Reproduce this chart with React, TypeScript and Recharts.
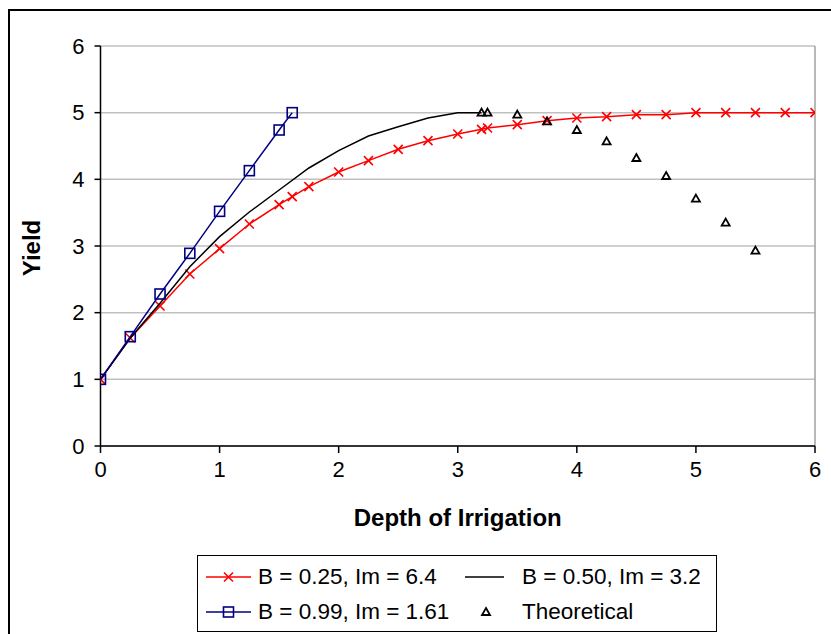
import { ScatterChart, Scatter, XAxis, YAxis, CartesianGrid, ReferenceLine, Label } from "recharts"

// depth of irrigation (x) / yield (y)
const depthB25 = [0, 0.25, 0.5, 0.75, 1, 1.25, 1.5, 1.61, 1.75, 2, 2.25, 2.5, 2.75, 3, 3.2, 3.25, 3.5, 3.75, 4, 4.25, 4.5, 4.75, 5, 5.25, 5.5, 5.75, 6]
const yieldB25 = [1.0, 1.62, 2.1, 2.58, 2.96, 3.33, 3.62, 3.74, 3.89, 4.11, 4.28, 4.45, 4.58, 4.68, 4.75, 4.77, 4.82, 4.88, 4.92, 4.94, 4.97, 4.97, 5.0, 5.0, 5.0, 5.0, 5.0]

const depthB50 = [0, 0.25, 0.5, 0.75, 1, 1.25, 1.5, 1.75, 2, 2.25, 2.5, 2.75, 3, 3.2]
const yieldB50 = [1.0, 1.62, 2.14, 2.69, 3.14, 3.51, 3.84, 4.17, 4.43, 4.65, 4.79, 4.92, 5.0, 5.0]

const depthB99 = [0, 0.25, 0.5, 0.75, 1, 1.25, 1.5, 1.61]
const yieldB99 = [1.0, 1.64, 2.28, 2.89, 3.52, 4.13, 4.74, 5.0]

const depthTheory = [3.2, 3.25, 3.5, 3.75, 4, 4.25, 4.5, 4.75, 5, 5.25, 5.5]
const yieldTheory = [5.0, 5.0, 4.97, 4.87, 4.74, 4.57, 4.32, 4.05, 3.71, 3.35, 2.93]

const axisTicks = [0, 1, 2, 3, 4, 5, 6]

const seriesNames = ["B = 0.25, Im = 6.4", "B = 0.50, Im = 3.2", "B = 0.99, Im = 1.61", "Theoretical"]

const toPoints = (xs: number[], ys: number[]) => xs.map((x, i) => ({ x, y: ys[i] }))

const FONT = "'Liberation Sans', Arial, sans-serif"
const RED = "#ff0000"
const NAVY = "#000080"

const Cross = ({ cx, cy }: any) => (
  <path d={`M${cx - 4.5},${cy - 4.5}L${cx + 4.5},${cy + 4.5}M${cx - 4.5},${cy + 4.5}L${cx + 4.5},${cy - 4.5}`} stroke={RED} strokeWidth={1.6} fill="none" />
)
const Square = ({ cx, cy }: any) => (
  <rect x={cx - 5} y={cy - 5} width={10} height={10} stroke={NAVY} strokeWidth={1.6} fill="none" />
)
const Triangle = ({ cx, cy }: any) => (
  <path d={`M${cx},${cy - 4}L${cx + 4},${cy + 3}L${cx - 4},${cy + 3}Z`} stroke="#000" strokeWidth={1.8} fill="none" />
)
const NoMark = () => <g />

const LegendBox = () => {
  const icon = (kind: string) => {
    const line = kind === "tri" ? null : (
      <line x1={0} y1={8} x2={kind === "black" ? 39 : 45} y2={8} stroke={kind === "red" ? RED : kind === "blue" ? NAVY : "#000"} strokeWidth={1.5} />
    )
    return (
      <svg width={45} height={16} style={{ display: "block" }}>
        {line}
        {kind === "red" && <Cross cx={22.5} cy={8} />}
        {kind === "blue" && <Square cx={22.5} cy={8} />}
        {kind === "tri" && <Triangle cx={21} cy={8} />}
      </svg>
    )
  }
  const item = (kind: string, label: string, left: number, top: number) => (
    <div style={{ position: "absolute", left, top, display: "flex", alignItems: "center", height: 24 }}>
      {icon(kind)}
      <span style={{ marginLeft: kind === "black" || kind === "tri" ? 12 : 7, whiteSpace: "nowrap" }}>{label}</span>
    </div>
  )
  return (
    <div
      style={{
        position: "absolute",
        left: 197,
        top: 555,
        width: 518,
        height: 75,
        border: "1.5px solid #000",
        background: "#fff",
        fontFamily: FONT,
        fontSize: 22.5,
        color: "#000",
      }}
    >
      {item("red", seriesNames[0], 8, 9)}
      {item("black", seriesNames[1], 267, 9)}
      {item("blue", seriesNames[2], 8, 44)}
      {item("tri", seriesNames[3], 267, 44)}
    </div>
  )
}

export default function App() {
  return (
    <div style={{ position: "absolute", left: 0, top: 0, width: 831, height: 634, overflow: "hidden", background: "#fff" }}>
      <ScatterChart width={831} height={634} margin={{ top: 46, right: 16, bottom: 104, left: 0.5 }}>
        <CartesianGrid horizontal vertical={false} stroke="#c0c0c0" strokeWidth={1.5} />
        <XAxis
          type="number"
          dataKey="x"
          domain={[0, 6]}
          ticks={axisTicks}
          allowDataOverflow
          height={84}
          tickSize={7}
          tickMargin={8}
          axisLine={{ stroke: "#000", strokeWidth: 1.5 }}
          tickLine={{ stroke: "#000", strokeWidth: 1.5 }}
          tick={{ fill: "#000", fontSize: 22, fontFamily: FONT }}
        >
          <Label
            value="Depth of Irrigation"
            position="insideBottom"
            offset={4}
            style={{ fill: "#000", fontSize: 24, fontWeight: "bold", fontFamily: FONT }}
          />
        </XAxis>
        <YAxis
          type="number"
          dataKey="y"
          domain={[0, 6]}
          ticks={axisTicks}
          allowDataOverflow
          width={100}
          tickSize={6}
          tickMargin={10}
          axisLine={{ stroke: "#000", strokeWidth: 1.5 }}
          tickLine={{ stroke: "#000", strokeWidth: 1.5 }}
          tick={{ fill: "#000", fontSize: 22, fontFamily: FONT }}
        >
          <Label
            content={({ viewBox }: any) => {
              const cy = viewBox.y + viewBox.height / 2 + 2
              return (
                <text
                  x={31}
                  y={cy}
                  transform={`rotate(-90, 31, ${cy})`}
                  textAnchor="middle"
                  dominantBaseline="central"
                  style={{ fill: "#000", fontSize: 24, fontWeight: "bold", fontFamily: FONT }}
                >
                  Yield
                </text>
              )
            }}
          />
        </YAxis>
        <ReferenceLine x={6} stroke="#a0a0a0" strokeWidth={1.5} />
        <Scatter name={seriesNames[0]} data={toPoints(depthB25, yieldB25)} line={{ stroke: RED, strokeWidth: 1.5 }} shape={Cross} isAnimationActive={false} />
        <Scatter name={seriesNames[1]} data={toPoints(depthB50, yieldB50)} line={{ stroke: "#000", strokeWidth: 1.5 }} shape={NoMark} isAnimationActive={false} />
        <Scatter name={seriesNames[2]} data={toPoints(depthB99, yieldB99)} line={{ stroke: NAVY, strokeWidth: 1.5 }} shape={Square} isAnimationActive={false} />
        <Scatter name={seriesNames[3]} data={toPoints(depthTheory, yieldTheory)} shape={Triangle} isAnimationActive={false} />
      </ScatterChart>
      <LegendBox />
      <div
        style={{
          position: "absolute",
          left: 8,
          top: 9,
          width: 860,
          height: 660,
          border: "2px solid #000",
          pointerEvents: "none",
        }}
      />
    </div>
  )
}
